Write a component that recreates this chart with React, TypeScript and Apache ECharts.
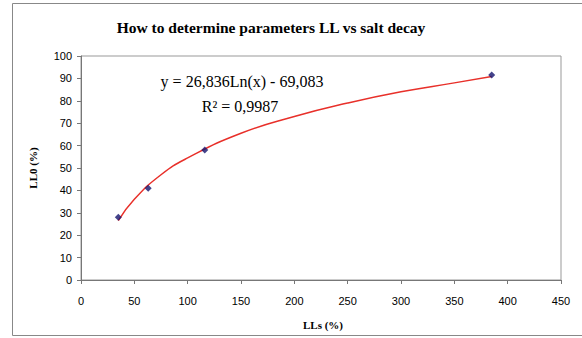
import React, { useEffect, useRef } from "react";
import * as echarts from "echarts";

const pointsX = [35, 63, 116, 385];
const pointsY = [28, 41, 58, 91.5];

// trendline points
const trendX = [35, 50, 75, 100, 150, 200, 250, 300, 350, 385];
const trendY = [26.5, 36, 47, 54.5, 65.5, 73, 79, 84, 88, 90.8];

const titleText = "How to determine parameters LL vs salt decay";
const eqText = "y = 26,836Ln(x) - 69,083";
const r2Text = "R² = 0,9987";
const xName = "LLs (%)";
const yName = "LL0 (%)";

export default function App() {
  const ref = useRef<HTMLDivElement>(null);
  useEffect(() => {
    const chart = echarts.init(ref.current!, null, { renderer: "svg" });
    const serif = "'Liberation Serif', 'Times New Roman', serif";
    const sans = "'Liberation Sans', Arial, sans-serif";
    chart.setOption({
      animation: false,
      backgroundColor: "#fff",
      grid: { left: 81, top: 56, right: 21, bottom: 58, show: true, borderColor: "#999", borderWidth: 1 },
      xAxis: {
        type: "value",
        min: 0,
        max: 450,
        interval: 50,
        splitLine: { show: false },
        axisLine: { lineStyle: { color: "#777", width: 1 } },
        axisTick: { show: true, length: 4, lineStyle: { color: "#777" } },
        axisLabel: { color: "#000", fontFamily: sans, fontSize: 11, margin: 15 },
      },
      yAxis: {
        type: "value",
        min: 0,
        max: 100,
        interval: 10,
        splitLine: { show: false },
        axisLine: { show: true, lineStyle: { color: "#777", width: 1 } },
        axisTick: { show: true, length: 4, lineStyle: { color: "#777" } },
        axisLabel: { color: "#000", fontFamily: sans, fontSize: 11, margin: 9 },
      },
      series: [
        {
          type: "line",
          data: trendX.map((x, i) => [x, trendY[i]]),
          smooth: true,
          showSymbol: false,
          symbol: "none",
          lineStyle: { color: "#e8302a", width: 1.5 },
          z: 2,
        },
        {
          type: "scatter",
          data: pointsX.map((x, i) => [x, pointsY[i]]),
          symbol: "diamond",
          symbolSize: 7,
          itemStyle: { color: "#14146e" },
          z: 3,
        },
      ],
      graphic: [
        {
          type: "polyline",
          shape: { points: [[590, 3.5], [12.5, 3.5], [12.5, 335.5], [590, 335.5]] },
          style: { fill: "none", stroke: "#888", lineWidth: 1 },
          silent: true,
        },
        {
          type: "text",
          x: 271,
          y: 27,
          style: { text: titleText, font: `bold 15.5px ${serif}`, fill: "#000", align: "center", verticalAlign: "middle" },
        },
        {
          type: "text",
          x: 242,
          y: 81,
          style: { text: eqText, font: `16px ${serif}`, fill: "#000", align: "center", verticalAlign: "middle" },
        },
        {
          type: "text",
          x: 240,
          y: 106,
          style: { text: r2Text, font: `16px ${serif}`, fill: "#000", align: "center", verticalAlign: "middle" },
        },
        {
          type: "text",
          x: 323,
          y: 325,
          style: { text: xName, font: `bold 11px ${serif}`, fill: "#000", align: "center", verticalAlign: "middle" },
        },
        {
          type: "text",
          x: 33,
          y: 168,
          rotation: Math.PI / 2,
          style: { text: yName, font: `bold 11px ${serif}`, fill: "#000", align: "center", verticalAlign: "middle" },
        },
      ],
    });
    return () => chart.dispose();
  }, []);
  return <div ref={ref} style={{ position: "absolute", left: 0, top: 0, width: 582, height: 338 }} />;
}
